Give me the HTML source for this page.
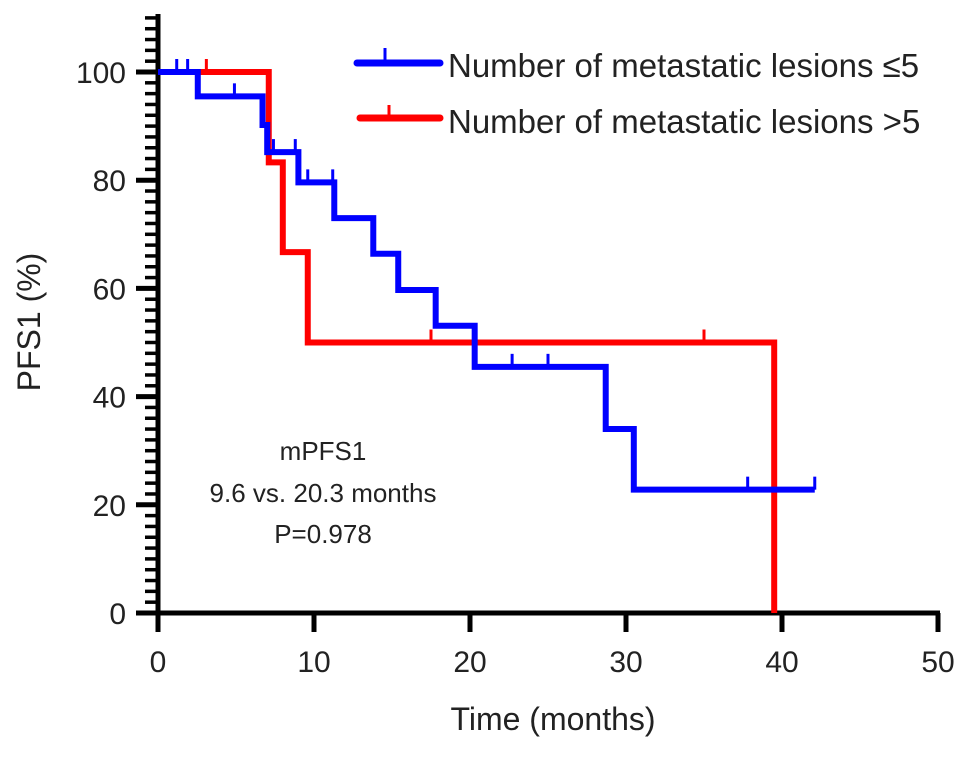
<!DOCTYPE html>
<html><head><meta charset="utf-8"><style>body{margin:0;background:#fff}svg{font-family:"Liberation Sans",Arial,sans-serif}</style></head>
<body>
<svg id="chart" width="969" height="757" viewBox="0 0 969 757" xmlns="http://www.w3.org/2000/svg">
<g id="axes"></g>
<g id="series"></g>
<text x="0" y="0" font-size="32" text-anchor="middle" transform="translate(40,322) rotate(-90)" fill="#222">PFS1 (%)</text>
<text x="553" y="730" font-size="32" text-anchor="middle" fill="#222">Time (months)</text>
<g font-size="26" text-anchor="middle" fill="#222">
<text x="323" y="460">mPFS1</text>
<text x="323" y="502">9.6 vs. 20.3 months</text>
<text x="323" y="543">P=0.978</text>
</g>
<g>
<g><line x1="357" y1="63" x2="440" y2="63" stroke="#0000ff" stroke-width="7" stroke-linecap="round"/><line x1="385" y1="63" x2="385" y2="48" stroke="#0000ff" stroke-width="3"/><text x="448" y="77" font-size="33" fill="#222">Number of metastatic lesions ≤5</text></g>
<g><line x1="360" y1="118" x2="440" y2="118" stroke="#ff0000" stroke-width="7" stroke-linecap="round"/><line x1="389" y1="118" x2="389" y2="105" stroke="#ff0000" stroke-width="3"/><text x="448" y="133" font-size="33" fill="#222">Number of metastatic lesions &gt;5</text></g>
</g>
</svg>
<script>
const xTicks=[0,10,20,30,40,50];
const yTicks=[0,20,40,60,80,100];
const blueSteps=[[0,100],[2.55,95.5],[6.7,90.2],[7.0,85.2],[9.0,79.6],[11.3,73],[13.8,66.4],[15.4,59.7],[17.8,53.1],[20.3,45.5],[28.7,34],[30.5,22.8]];
const blueEnd=42.1;
const blueCensor=[1.2,1.9,4.9,7.4,8.8,9.6,11.2,22.7,25.0,37.8,42.1];
const redSteps=[[0,100],[7.1,83.3],[8.0,66.7],[9.6,50],[39.5,0]];
const redEnd=39.5;
const redCensor=[3.1,17.5,35.0];
const NS="http://www.w3.org/2000/svg";
const X=v=>158+v*15.6, Y=v=>613-v*5.41;
function mk(t,a,p){const e=document.createElementNS(NS,t);for(const k in a)e.setAttribute(k,a[k]);p.appendChild(e);return e;}
const ax=document.getElementById('axes'), se=document.getElementById('series');
let l=mk('line',{x1:158,y1:14,x2:158,y2:616,stroke:'#000','stroke-width':5},ax);


l=mk('line',{x1:137,y1:613,x2:940,y2:613,stroke:'#000','stroke-width':5},ax);


for(let v=0;v<=110;v+=2){if(v%20===0)continue;const m=mk('line',{x1:145,y1:Y(v),x2:158,y2:Y(v),stroke:'#000','stroke-width':3.5},ax);

}
yTicks.forEach(v=>{const m=mk('line',{x1:136,y1:Y(v),x2:158,y2:Y(v),stroke:'#000','stroke-width':5},ax);


const t=mk('text',{x:126,y:Y(v)+11,'font-size':30,'text-anchor':'end',fill:'#222'},ax);t.textContent=v;

});
xTicks.forEach(v=>{const m=mk('line',{x1:X(v),y1:613,x2:X(v),y2:632,stroke:'#000','stroke-width':5},ax);


const t=mk('text',{x:X(v),y:672,'font-size':30,'text-anchor':'middle',fill:'#222'},ax);t.textContent=v;

});
function curve(steps,end,cens,col,name){
  let d='M'+X(steps[0][0])+','+Y(steps[0][1]);
  for(let i=1;i<steps.length;i++){d+=' H'+X(steps[i][0])+' V'+Y(steps[i][1]);}
  d+=' H'+X(end);
  const p=mk('path',{d:d,fill:'none',stroke:col,'stroke-width':6,'stroke-linejoin':'miter'},se);
  
  
  cens.forEach(c=>{let s=steps[0][1];steps.forEach(st=>{if(st[0]<=c)s=st[1];});
    const m=mk('line',{x1:X(c),y1:Y(s),x2:X(c),y2:Y(s)-13,stroke:col,'stroke-width':3},se);
    
    });
}
curve(redSteps,redEnd,redCensor,'#ff0000','gt5');
curve(blueSteps,blueEnd,blueCensor,'#0000ff','le5');
</script>
</body></html>
